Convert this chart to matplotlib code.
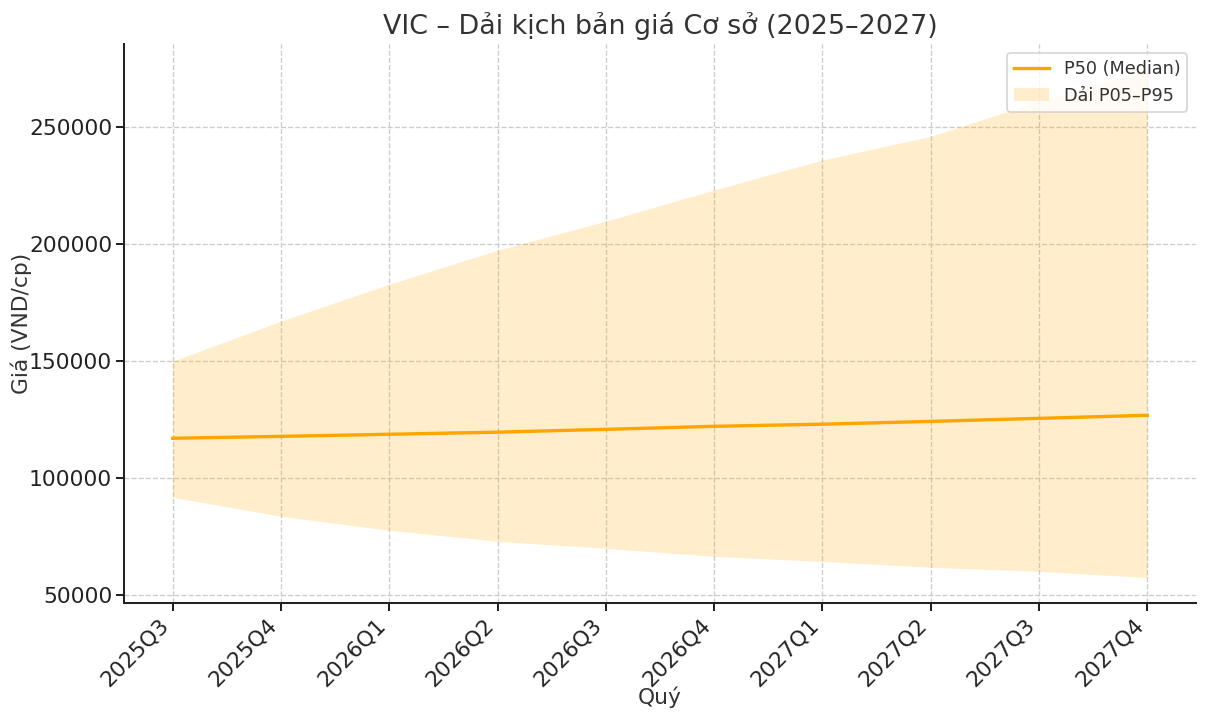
import numpy as np
import matplotlib.pyplot as plt

# Base-case price band for VIC, quarterly 2025Q3 - 2027Q4

quarters = ['2025Q3', '2025Q4', '2026Q1', '2026Q2', '2026Q3',
            '2026Q4', '2027Q1', '2027Q2', '2027Q3', '2027Q4']
p50 = [117100, 117900, 118800, 119700, 120900,
       122200, 123100, 124300, 125600, 126900]
p05 = [91900, 83800, 77800, 73100, 70100,
       66700, 64500, 62000, 60300, 57600]
p95 = [150000, 167100, 182900, 197400, 209800,
       223100, 235900, 246000, 261000, 274600]

plt.rcParams['font.family'] = ['DejaVu Sans']
plt.rcParams['text.color'] = '#333333'
plt.rcParams['axes.labelcolor'] = '#333333'
plt.rcParams['xtick.color'] = '#222222'
plt.rcParams['ytick.color'] = '#222222'

fig = plt.figure(figsize=(10, 720 / 120.8), dpi=120.8)
ax = fig.add_axes((124 / 1208, 1 - 603 / 720, (1196 - 124) / 1208, (603 - 44) / 720))

x = np.arange(len(quarters))
ax.plot(x, p50, color='orange', lw=2, label='P50 (Median)')
ax.fill_between(x, p05, p95, color='orange', alpha=0.2, lw=0, label='Dải P05–P95')

ax.set_xticks(x)
ax.set_xticklabels(quarters, rotation=45, ha='right')
ax.tick_params(labelsize=13, direction='out', length=5, width=1.2, pad=2)

ax.grid(True, ls='--', color='#cccccc', lw=0.8)
ax.set_axisbelow(True)
for s in ['top', 'right']:
    ax.spines[s].set_visible(False)
for s in ['left', 'bottom']:
    ax.spines[s].set_linewidth(1.2)
    ax.spines[s].set_color('#222222')

ax.set_title('VIC – Dải kịch bản giá Cơ sở (2025–2027)', fontsize=16)
ax.set_xlabel('Quý', fontsize=13, labelpad=-2)
ax.set_ylabel('Giá (VND/cp)', fontsize=13, labelpad=-2)
ax.legend(loc='upper right', fontsize=10.5)

fig.savefig('out.png', dpi=120.8)
